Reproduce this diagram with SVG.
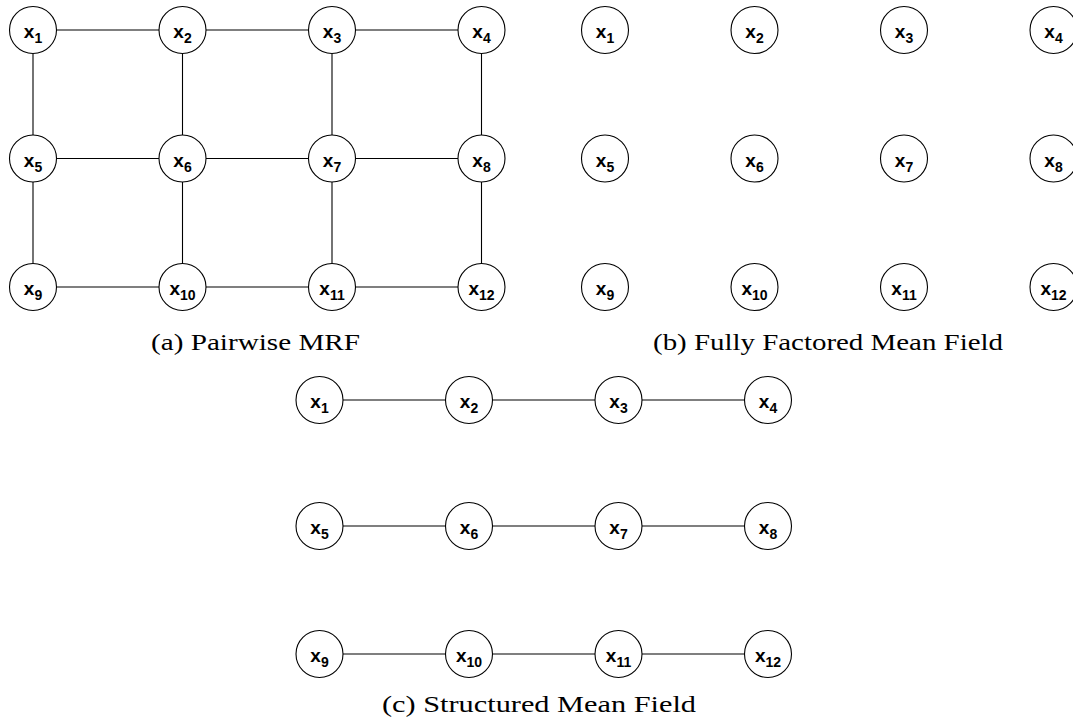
<svg xmlns="http://www.w3.org/2000/svg" width="1073" height="726" viewBox="0 0 1073 726">
<style>
.n circle{fill:#fff;stroke:#000;stroke-width:1.1}
.n text{font-family:"Liberation Sans",Arial,sans-serif;font-weight:bold;font-size:19px;text-anchor:middle;fill:#000}
.n tspan{font-size:14px}
.e line{stroke:#000;stroke-width:1.1}
.cap{font-family:"Liberation Serif","Times New Roman",serif;font-size:24px;fill:#000}
</style>
<rect width="1073" height="726" fill="#fff"/>
<g class="e" id="edges-a">
<line x1="57" y1="30" x2="159" y2="30"/><line x1="206" y1="30" x2="308" y2="30"/><line x1="355" y1="30" x2="458" y2="30"/>
<line x1="57" y1="158.5" x2="159" y2="158.5"/><line x1="206" y1="158.5" x2="308" y2="158.5"/><line x1="355" y1="158.5" x2="458" y2="158.5"/>
<line x1="57" y1="287" x2="159" y2="287"/><line x1="206" y1="287" x2="308" y2="287"/><line x1="355" y1="287" x2="458" y2="287"/>
<line x1="33" y1="54" x2="33" y2="135"/><line x1="182.5" y1="54" x2="182.5" y2="135"/><line x1="332" y1="54" x2="332" y2="135"/><line x1="481.5" y1="54" x2="481.5" y2="135"/>
<line x1="33" y1="182" x2="33" y2="263"/><line x1="182.5" y1="182" x2="182.5" y2="263"/><line x1="332" y1="182" x2="332" y2="263"/><line x1="481.5" y1="182" x2="481.5" y2="263"/>
</g>
<g class="e" id="edges-c">
<line x1="343" y1="400" x2="445" y2="400"/><line x1="492" y1="400" x2="595" y2="400"/><line x1="642" y1="400" x2="744" y2="400"/>
<line x1="343" y1="526" x2="445" y2="526"/><line x1="492" y1="526" x2="595" y2="526"/><line x1="642" y1="526" x2="744" y2="526"/>
<line x1="343" y1="654" x2="445" y2="654"/><line x1="492" y1="654" x2="595" y2="654"/><line x1="642" y1="654" x2="744" y2="654"/>
</g>
<g id="a-x1" class="n"><circle cx="33" cy="30" r="23.5"/><text x="33" y="38">x<tspan dy="5">1</tspan></text></g>
<g id="a-x2" class="n"><circle cx="182.5" cy="30" r="23.5"/><text x="182.5" y="38">x<tspan dy="5">2</tspan></text></g>
<g id="a-x3" class="n"><circle cx="332" cy="30" r="23.5"/><text x="332" y="38">x<tspan dy="5">3</tspan></text></g>
<g id="a-x4" class="n"><circle cx="481.5" cy="30" r="23.5"/><text x="481.5" y="38">x<tspan dy="5">4</tspan></text></g>
<g id="a-x5" class="n"><circle cx="33" cy="158.5" r="23.5"/><text x="33" y="166.5">x<tspan dy="5">5</tspan></text></g>
<g id="a-x6" class="n"><circle cx="182.5" cy="158.5" r="23.5"/><text x="182.5" y="166.5">x<tspan dy="5">6</tspan></text></g>
<g id="a-x7" class="n"><circle cx="332" cy="158.5" r="23.5"/><text x="332" y="166.5">x<tspan dy="5">7</tspan></text></g>
<g id="a-x8" class="n"><circle cx="481.5" cy="158.5" r="23.5"/><text x="481.5" y="166.5">x<tspan dy="5">8</tspan></text></g>
<g id="a-x9" class="n"><circle cx="33" cy="287" r="23.5"/><text x="33" y="295">x<tspan dy="5">9</tspan></text></g>
<g id="a-x10" class="n"><circle cx="182.5" cy="287" r="23.5"/><text x="182.5" y="295">x<tspan dy="5">10</tspan></text></g>
<g id="a-x11" class="n"><circle cx="332" cy="287" r="23.5"/><text x="332" y="295">x<tspan dy="5">11</tspan></text></g>
<g id="a-x12" class="n"><circle cx="481.5" cy="287" r="23.5"/><text x="481.5" y="295">x<tspan dy="5">12</tspan></text></g>

<g id="b-x1" class="n"><circle cx="605" cy="30" r="23.5"/><text x="605" y="38">x<tspan dy="5">1</tspan></text></g>
<g id="b-x2" class="n"><circle cx="754.5" cy="30" r="23.5"/><text x="754.5" y="38">x<tspan dy="5">2</tspan></text></g>
<g id="b-x3" class="n"><circle cx="904" cy="30" r="23.5"/><text x="904" y="38">x<tspan dy="5">3</tspan></text></g>
<g id="b-x4" class="n"><circle cx="1053.5" cy="30" r="23.5"/><text x="1053.5" y="38">x<tspan dy="5">4</tspan></text></g>
<g id="b-x5" class="n"><circle cx="605" cy="158.5" r="23.5"/><text x="605" y="166.5">x<tspan dy="5">5</tspan></text></g>
<g id="b-x6" class="n"><circle cx="754.5" cy="158.5" r="23.5"/><text x="754.5" y="166.5">x<tspan dy="5">6</tspan></text></g>
<g id="b-x7" class="n"><circle cx="904" cy="158.5" r="23.5"/><text x="904" y="166.5">x<tspan dy="5">7</tspan></text></g>
<g id="b-x8" class="n"><circle cx="1053.5" cy="158.5" r="23.5"/><text x="1053.5" y="166.5">x<tspan dy="5">8</tspan></text></g>
<g id="b-x9" class="n"><circle cx="605" cy="287" r="23.5"/><text x="605" y="295">x<tspan dy="5">9</tspan></text></g>
<g id="b-x10" class="n"><circle cx="754.5" cy="287" r="23.5"/><text x="754.5" y="295">x<tspan dy="5">10</tspan></text></g>
<g id="b-x11" class="n"><circle cx="904" cy="287" r="23.5"/><text x="904" y="295">x<tspan dy="5">11</tspan></text></g>
<g id="b-x12" class="n"><circle cx="1053.5" cy="287" r="23.5"/><text x="1053.5" y="295">x<tspan dy="5">12</tspan></text></g>

<g id="c-x1" class="n"><circle cx="319.5" cy="400" r="23.5"/><text x="319.5" y="408">x<tspan dy="5">1</tspan></text></g>
<g id="c-x2" class="n"><circle cx="469" cy="400" r="23.5"/><text x="469" y="408">x<tspan dy="5">2</tspan></text></g>
<g id="c-x3" class="n"><circle cx="618.5" cy="400" r="23.5"/><text x="618.5" y="408">x<tspan dy="5">3</tspan></text></g>
<g id="c-x4" class="n"><circle cx="768" cy="400" r="23.5"/><text x="768" y="408">x<tspan dy="5">4</tspan></text></g>
<g id="c-x5" class="n"><circle cx="319.5" cy="526" r="23.5"/><text x="319.5" y="534">x<tspan dy="5">5</tspan></text></g>
<g id="c-x6" class="n"><circle cx="469" cy="526" r="23.5"/><text x="469" y="534">x<tspan dy="5">6</tspan></text></g>
<g id="c-x7" class="n"><circle cx="618.5" cy="526" r="23.5"/><text x="618.5" y="534">x<tspan dy="5">7</tspan></text></g>
<g id="c-x8" class="n"><circle cx="768" cy="526" r="23.5"/><text x="768" y="534">x<tspan dy="5">8</tspan></text></g>
<g id="c-x9" class="n"><circle cx="319.5" cy="654" r="23.5"/><text x="319.5" y="662">x<tspan dy="5">9</tspan></text></g>
<g id="c-x10" class="n"><circle cx="469" cy="654" r="23.5"/><text x="469" y="662">x<tspan dy="5">10</tspan></text></g>
<g id="c-x11" class="n"><circle cx="618.5" cy="654" r="23.5"/><text x="618.5" y="662">x<tspan dy="5">11</tspan></text></g>
<g id="c-x12" class="n"><circle cx="768" cy="654" r="23.5"/><text x="768" y="662">x<tspan dy="5">12</tspan></text></g>

<text class="cap" x="151" y="350" textLength="209" lengthAdjust="spacingAndGlyphs">(a)  Pairwise MRF</text>
<text class="cap" x="653" y="350" textLength="350" lengthAdjust="spacingAndGlyphs">(b)  Fully Factored Mean Field</text>
<text class="cap" x="382" y="712" textLength="314" lengthAdjust="spacingAndGlyphs">(c)  Structured Mean Field</text>
</svg>
